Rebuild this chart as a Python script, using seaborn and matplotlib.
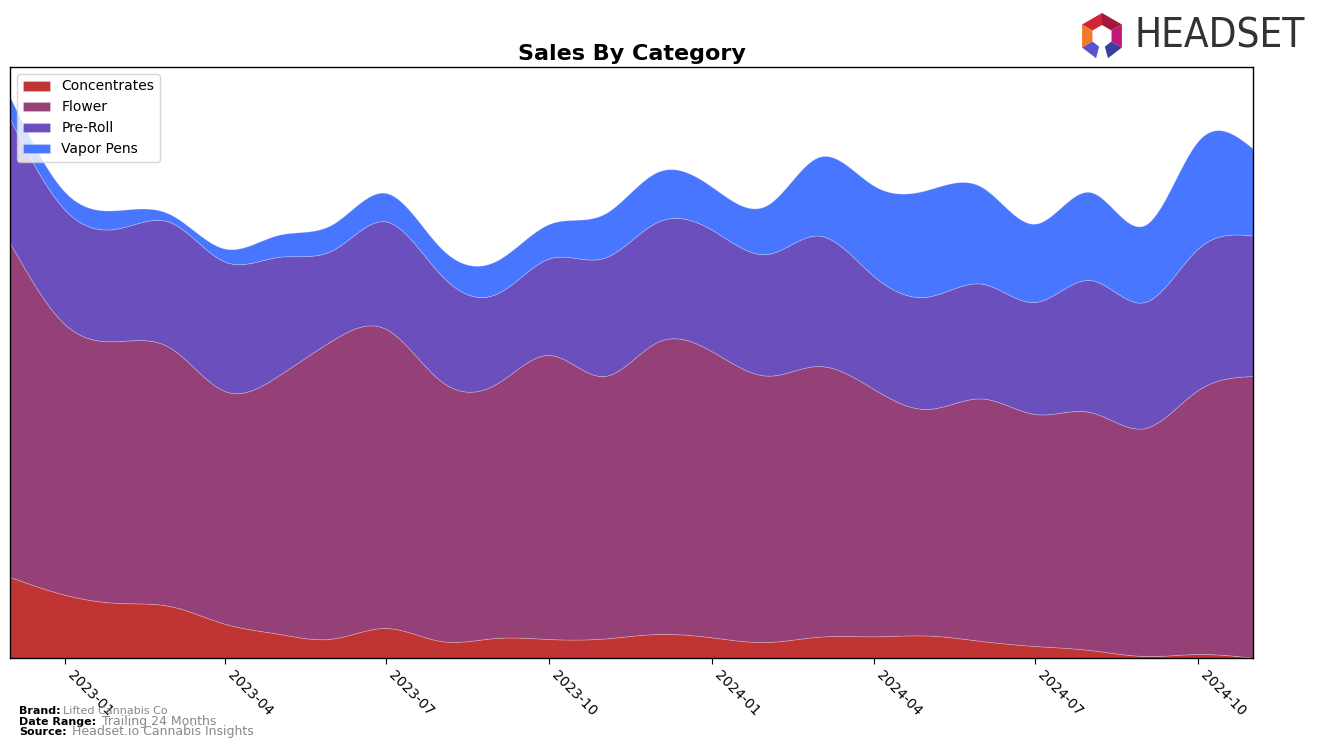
import numpy as np
import pandas as pd
import matplotlib
matplotlib.use("Agg")
import matplotlib.pyplot as plt
import matplotlib.dates as mdates
from matplotlib.patches import Polygon
import seaborn as sns

# ---- data (monthly, arbitrary sales units) ----
months = pd.date_range("2022-12-01", "2024-11-01", freq="MS")
categories = ["Concentrates", "Flower", "Pre-Roll", "Vapor Pens"]
concentrates = [81, 63.2, 55, 52, 34.3, 24.3, 19.5, 30, 17, 20, 19, 19.5,
                24, 20.6, 16, 21.3, 21.7, 22.5, 17, 12, 8, 2, 4, 0.3]
flower = [334, 270.4, 262, 258.6, 232.7, 257.7, 298.5, 299, 260, 254, 284, 262.5,
          292, 285.9, 266.4, 270.7, 247.3, 226.5, 242.5, 232, 238, 228, 264, 281.7]
pre_roll = [124, 114.4, 113, 125.4, 129.5, 119, 90, 107.5, 106, 90, 96.5, 118.2,
            120, 121.5, 121.6, 130.4, 113, 112.3, 114.8, 112, 132, 126, 141.5, 140.4]
vapor_pens = [22, 18, 18, 8, 13, 22, 26, 28.5, 27, 33, 34.5, 43.8,
              50, 43, 49, 78.6, 90.5, 106.7, 96.7, 78.3, 88, 77, 107.5, 87.1]
colors = ["#C13434", "#954178", "#6A4FBD", "#4876FE"]

brand = "Lifted Cannabis Co"
date_range = "Trailing 24 Months"
source = "Headset.io Cannabis Insights"


def cubic_spline(x, y, xs):
    """Natural cubic spline through (x, y), evaluated at xs."""
    x = np.asarray(x, float)
    y = np.asarray(y, float)
    n = len(x)
    h = np.diff(x)
    A = np.zeros((n, n))
    b = np.zeros(n)
    A[0, 0] = 1.0
    A[-1, -1] = 1.0
    for i in range(1, n - 1):
        A[i, i - 1] = h[i - 1]
        A[i, i] = 2 * (h[i - 1] + h[i])
        A[i, i + 1] = h[i]
        b[i] = 6 * ((y[i + 1] - y[i]) / h[i] - (y[i] - y[i - 1]) / h[i - 1])
    M = np.linalg.solve(A, b)
    idx = np.clip(np.searchsorted(x, xs) - 1, 0, n - 2)
    x0, x1 = x[idx], x[idx + 1]
    hh = x1 - x0
    return (M[idx] * (x1 - xs) ** 3 / (6 * hh) + M[idx + 1] * (xs - x0) ** 3 / (6 * hh)
            + (y[idx] / hh - M[idx] * hh / 6) * (x1 - xs)
            + (y[idx + 1] / hh - M[idx + 1] * hh / 6) * (xs - x0))


sns.set_style("ticks", {"axes.edgecolor": "black", "xtick.color": "black",
                        "ytick.color": "black", "text.color": "black"})
plt.rcParams["font.family"] = ["DejaVu Sans"]
palette = sns.color_palette(colors)

W, H = 1317, 747
fig = plt.figure(figsize=(W / 100, H / 100), dpi=100)
ax = fig.add_axes([10 / W, 1 - 658 / H, (1253 - 10) / W, (658 - 67) / H])

xnum = mdates.date2num(months.to_pydatetime())
xs = np.linspace(xnum[0], xnum[-1], 1200)
series = [concentrates, flower, pre_roll, vapor_pens]
smooth = [np.clip(cubic_spline(xnum, s, xs), 0, None) for s in series]

ax.stackplot(xs, *smooth, labels=categories, colors=palette, linewidth=0.6,
             edgecolor="#ffffff40")

ax.set_xlim(xnum[0], xnum[-1])
ax.set_ylim(0, 591)
ax.set_yticks([])
ax.xaxis.set_major_locator(mdates.MonthLocator(bymonth=[1, 4, 7, 10]))
ax.xaxis.set_major_formatter(mdates.DateFormatter("%Y-%m"))
for lab in ax.get_xticklabels():
    lab.set_rotation(-45)
    lab.set_ha("left")
    lab.set_va("top")
    lab.set_rotation_mode("default")
ax.tick_params(axis="x", labelsize=10, length=4, width=0.8)
for sp in ax.spines.values():
    sp.set_linewidth(1.0)
    sp.set_color("black")

ax.set_title("Sales By Category", fontsize=16, fontweight="bold", pad=5)
leg = ax.legend(loc="upper left", fontsize=10, frameon=True, fancybox=True,
                borderpad=0.4, handlelength=2.0)
leg.get_frame().set_edgecolor("#cccccc")

# footer
fig.text(19 / W, 1 - 714 / H, "Brand:", fontsize=8, fontweight="bold")
fig.text(63 / W, 1 - 714 / H, brand, fontsize=8, color="#888888")
fig.text(19 / W, 1 - 725 / H, "Date Range:", fontsize=8, fontweight="bold")
fig.text(102 / W, 1 - 725 / H, date_range, fontsize=9, color="#888888")
fig.text(19 / W, 1 - 735 / H, "Source:", fontsize=8, fontweight="bold")
fig.text(72 / W, 1 - 735 / H, source, fontsize=9, color="#888888")

# logo
cx, cy, ro, ri = 1102, 36, 23, 11


def pt(ang, r):
    a = np.deg2rad(ang)
    return ((cx + r * np.cos(a)) / W, 1 - (cy - r * np.sin(a)) / H)


segs = [((150, 90), "#D42335"), ((90, 30), "#A5183C"), ((30, -30), "#C2187A"),
        ((210, 150), "#F07A28"), ((-30, -75), "#3B3F9E"), ((255, 210), "#5A52C8")]
for (a0, a1), c in segs:
    poly = [pt(a0, ro), pt(a1, ro), pt(a1, ri), pt(a0, ri)]
    fig.add_artist(Polygon(poly, closed=True, facecolor=c, edgecolor="none",
                           transform=fig.transFigure))
fig.text(1134 / W, 1 - 37 / H, "HEADSET", fontsize=29, color="#333333",
         fontstretch="condensed", va="center", ha="left")

fig.savefig("out.png", dpi=100)
